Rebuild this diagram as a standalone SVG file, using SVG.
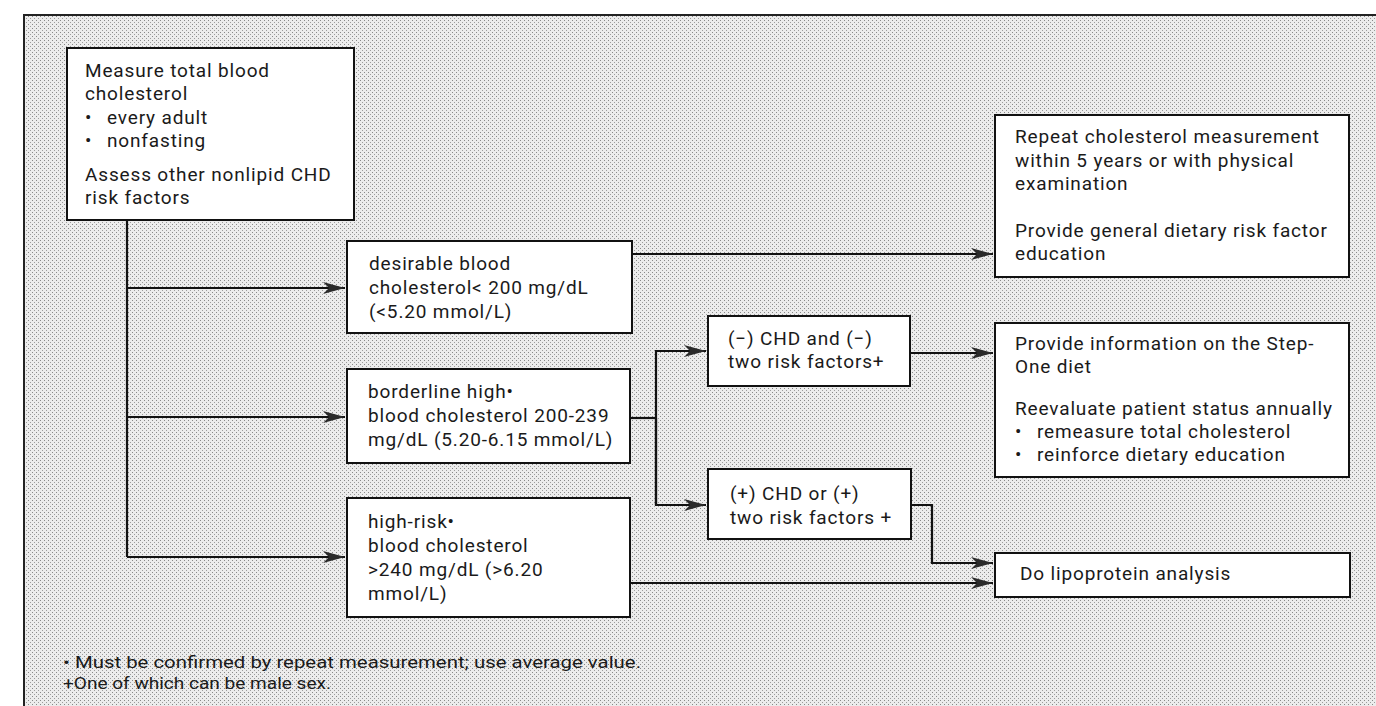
<svg xmlns="http://www.w3.org/2000/svg" width="1376" height="706" viewBox="0 0 1376 706">
<defs>
<pattern id="dots" width="4" height="4" patternUnits="userSpaceOnUse">
<rect width="4" height="4" fill="#ececec"/>
<rect x="0" y="0" width="1" height="1" fill="#888"/>
<rect x="2" y="2" width="1" height="1" fill="#9c9c9c"/>
</pattern>
<marker id="arr" markerWidth="24" markerHeight="13" refX="22" refY="6.5" orient="auto" markerUnits="userSpaceOnUse">
<path d="M0,0.5 L22,6.5 L0,12.5 L6,6.5 Z" fill="#2a2a2a"/>
</marker>
</defs>
<style>
.box{fill:#fff;stroke:#111;stroke-width:2}
.t{font-family:Roboto,"Liberation Sans",sans-serif;font-size:19px;letter-spacing:0.85px;fill:#1a1a1a}
.fn{font-family:Roboto,"Liberation Sans",sans-serif;font-size:16.5px;fill:#1a1a1a}
.c{fill:none;stroke:#111;stroke-width:2.2}
.a{marker-end:url(#arr)}
</style>
<rect x="0" y="0" width="1376" height="706" fill="#fff"/>
<rect x="24" y="15" width="1352" height="691" fill="url(#dots)"/>
<path d="M24,706 L24,15 L1376,15" fill="none" stroke="#222" stroke-width="2"/>

<g id="connectors">
<path class="c" d="M127,220 L127,557"/>
<path class="c a" d="M127,288 L345,288"/>
<path class="c a" d="M127,417 L345,417"/>
<path class="c a" d="M127,557 L345,557"/>
<path class="c a" d="M632,254 L993,254"/>
<path class="c" d="M630,418 L656,418"/>
<path class="c a" d="M656,505 L656,351 L706,351"/>
<path class="c a" d="M656,418 L656,505 L706,505"/>
<path class="c a" d="M910,353 L993,353"/>
<path class="c a" d="M911,505 L932,505 L932,563 L993,563"/>
<path class="c a" d="M630,583 L993,583"/>
</g>

<g id="measure">
<rect class="box" x="67" y="48" width="287" height="172"/>
<text class="t" x="85" y="77">Measure total blood</text>
<text class="t" x="85" y="100">cholesterol</text>
<text class="t" x="85" y="124">•</text><text class="t" x="107" y="124">every adult</text>
<text class="t" x="85" y="147">•</text><text class="t" x="107" y="147">nonfasting</text>
<text class="t" x="85" y="181">Assess other nonlipid CHD</text>
<text class="t" x="85" y="204">risk factors</text>
</g>

<g id="desirable">
<rect class="box" x="347" y="241" width="285" height="92"/>
<text class="t" x="369" y="270">desirable blood</text>
<text class="t" x="369" y="294">cholesterol&lt; 200 mg/dL</text>
<text class="t" x="369" y="318">(&lt;5.20 mmol/L)</text>
</g>

<g id="borderline">
<rect class="box" x="347" y="369" width="283" height="94"/>
<text class="t" x="368" y="398">borderline high•</text>
<text class="t" x="368" y="422">blood cholesterol 200-239</text>
<text class="t" x="368" y="446">mg/dL (5.20-6.15 mmol/L)</text>
</g>

<g id="highrisk">
<rect class="box" x="347" y="498" width="283" height="119"/>
<text class="t" x="368" y="528">high-risk•</text>
<text class="t" x="368" y="552">blood cholesterol</text>
<text class="t" x="368" y="576">&gt;240 mg/dL (&gt;6.20</text>
<text class="t" x="368" y="600">mmol/L)</text>
</g>

<g id="negchd">
<rect class="box" x="708" y="316" width="202" height="70"/>
<text class="t" x="728" y="345">(−) CHD and (−)</text>
<text class="t" x="728" y="368">two risk factors+</text>
</g>

<g id="poschd">
<rect class="box" x="708" y="469" width="203" height="70"/>
<text class="t" x="730" y="500">(+) CHD or (+)</text>
<text class="t" x="730" y="524">two risk factors +</text>
</g>

<g id="repeat">
<rect class="box" x="995" y="115" width="354" height="162"/>
<text class="t" x="1015" y="143">Repeat cholesterol measurement</text>
<text class="t" x="1015" y="167">within 5 years or with physical</text>
<text class="t" x="1015" y="190">examination</text>
<text class="t" x="1015" y="237">Provide general dietary risk factor</text>
<text class="t" x="1015" y="260">education</text>
</g>

<g id="stepone">
<rect class="box" x="995" y="323" width="354" height="154"/>
<text class="t" x="1015" y="350">Provide information on the Step-</text>
<text class="t" x="1015" y="373">One diet</text>
<text class="t" x="1015" y="415">Reevaluate patient status annually</text>
<text class="t" x="1015" y="438">•</text><text class="t" x="1037" y="438">remeasure total cholesterol</text>
<text class="t" x="1015" y="461">•</text><text class="t" x="1037" y="461">reinforce dietary education</text>
</g>

<g id="lipoprotein">
<rect class="box" x="995" y="553" width="355" height="44"/>
<text class="t" x="1020" y="580">Do lipoprotein analysis</text>
</g>

<g id="footnotes">
<text class="fn" x="63" y="668" textLength="578" lengthAdjust="spacingAndGlyphs">• Must be confirmed by repeat measurement; use average value.</text>
<text class="fn" x="63" y="689" textLength="268" lengthAdjust="spacingAndGlyphs">+One of which can be male sex.</text>
</g>
</svg>
